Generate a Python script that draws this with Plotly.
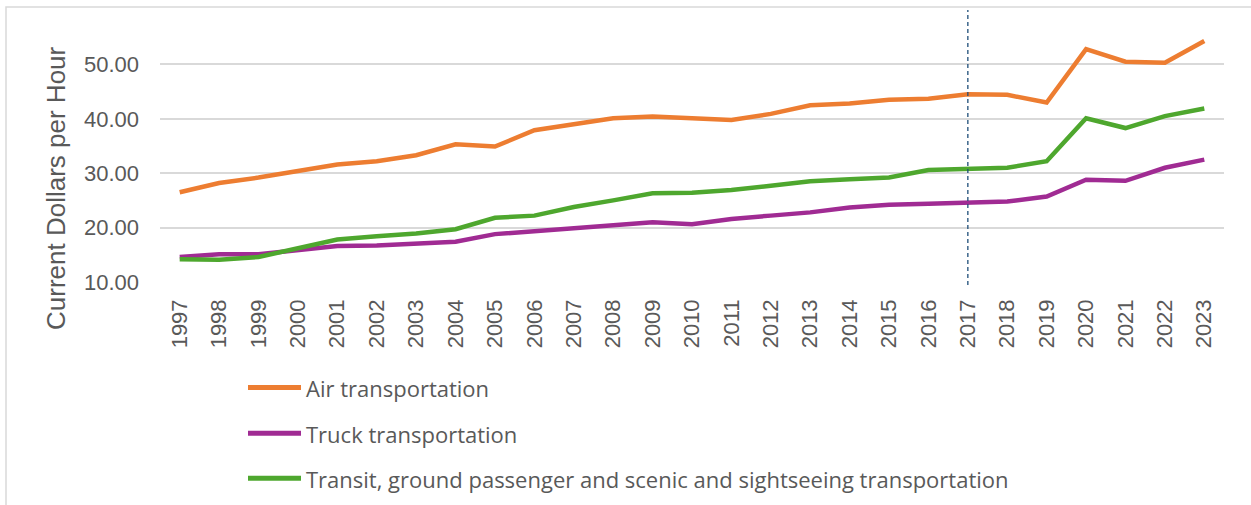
import plotly.graph_objects as go

# Hourly compensation by transportation sector, 1997-2023
years = list(range(1997, 2024))

air = [26.5, 28.2, 29.2, 30.5, 31.6, 32.2, 33.3, 35.3, 34.9, 37.9, 39.1, 40.1, 40.4,
       40.2, 39.8, 40.9, 42.5, 42.8, 43.5, 43.7, 44.5, 44.4, 43.0, 52.8, 50.5, 50.3, 54.3]

truck = [14.6, 15.1, 15.1, 15.8, 16.6, 16.7, 17.0, 17.4, 18.8, 19.4, 20.0, 20.6, 21.0,
         20.6, 21.6, 22.2, 22.8, 23.7, 24.2, 24.4, 24.7, 24.8, 25.7, 28.8, 28.6, 31.0, 32.5]

transit = [14.2, 14.1, 14.6, 16.3, 17.8, 18.4, 18.9, 19.7, 21.8, 22.2, 23.8, 25.0, 26.3,
           26.4, 26.9, 27.7, 28.5, 28.9, 29.2, 30.6, 30.9, 31.0, 32.2, 40.1, 38.3, 40.5, 41.9]

series_names = [
    "Air transportation",
    "Truck transportation",
    "Transit, ground passenger and scenic and sightseeing transportation",
]
series_values = [air, truck, transit]
series_colors = ["#ED7D31", "#A02B93", "#4EA72E"]

y_ticks = [10, 20, 30, 40, 50]
marker_year = 2017

GRAY_TEXT = "#595959"
GRID = "#D9D9D9"

fig = go.Figure()
for name, vals, col in zip(series_names, series_values, series_colors):
    fig.add_trace(go.Scatter(
        x=years, y=vals, name=name, mode="lines",
        line=dict(color=col, width=4.5),
        showlegend=False,
    ))

# Plot-area pixel geometry (used to place the hand-drawn legend and frame)
W, H = 1251, 505
ML, MR, MT, MB = 160, 27, 10, 223
pw = W - ML - MR
ph = H - MT - MB


def px_x(x):
    return (x - ML) / pw


def px_y(y):
    return (H - MB - y) / ph


shapes = [
    # vertical dashed reference line at 2017
    dict(type="line", xref="x", yref="paper", x0=marker_year, x1=marker_year,
         y0=px_y(285), y1=1.0, line=dict(color="#1F4E79", width=1.3, dash="4px,3px")),
    # outer chart frame
    dict(type="rect", xref="paper", yref="paper", x0=px_x(6), x1=px_x(1270),
         y0=px_y(530), y1=px_y(7), line=dict(color=GRID, width=1.5), layer="below"),
]

annotations = [
    dict(text="Current Dollars per Hour", textangle=-90, xref="paper", yref="paper",
         x=px_x(56), y=px_y(188), showarrow=False, xanchor="center", yanchor="middle",
         font=dict(family="Liberation Sans, Arial, sans-serif", size=26, color=GRAY_TEXT)),
]

legend_rows = [387.5, 433.3, 478.3]
for name, col, ly in zip(series_names, series_colors, legend_rows):
    shapes.append(dict(type="line", xref="paper", yref="paper",
                       x0=px_x(248), x1=px_x(301), y0=px_y(ly), y1=px_y(ly),
                       line=dict(color=col, width=5)))
    annotations.append(dict(text=name, xref="paper", yref="paper",
                            x=px_x(304), y=px_y(ly + 0.5), showarrow=False,
                            xanchor="left", yanchor="middle",
                            font=dict(family="Open Sans, sans-serif",
                                      size=22, color=GRAY_TEXT)))

fig.update_layout(
    width=W, height=H,
    margin=dict(l=ML, r=MR, t=MT, b=MB, pad=0),
    paper_bgcolor="white", plot_bgcolor="white",
    font=dict(family="Liberation Sans, Arial, sans-serif", color=GRAY_TEXT),
    shapes=shapes, annotations=annotations,
    xaxis=dict(
        range=[years[0] - 0.5, years[-1] + 0.5],
        tickvals=years, ticktext=[str(y) for y in years],
        tickangle=-90, tickfont=dict(size=22, color=GRAY_TEXT),
        showgrid=False, zeroline=False, showline=False, ticks="",
        ticklabelstandoff=12,
    ),
    yaxis=dict(
        range=[10, 60], tickvals=y_ticks, tickformat=".2f",
        tickfont=dict(size=22, color=GRAY_TEXT),
        showgrid=True, gridcolor=GRID, gridwidth=1.5,
        zeroline=False, showline=False, ticks="",
        ticklabelstandoff=20,
    ),
)

fig.write_html("out.html")
